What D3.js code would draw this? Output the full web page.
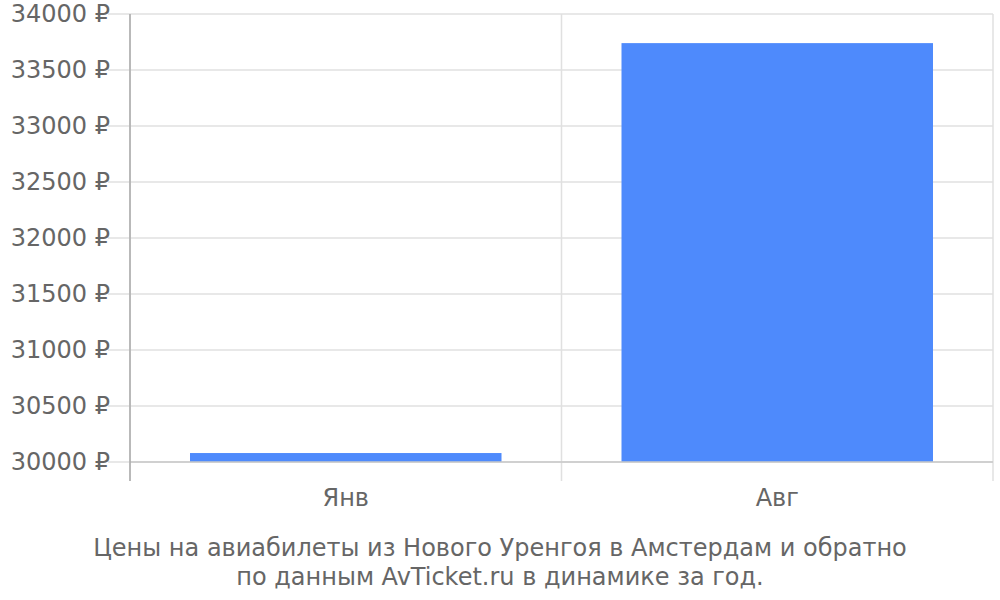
<!DOCTYPE html>
<html>
<head>
<meta charset="utf-8">
<script src="https://cdn.jsdelivr.net/npm/d3@7"></script>
<style>
  body { margin: 0; background: #fff; }
  text { font-family: "DejaVu Sans", sans-serif; }
</style>
</head>
<body>
<div id="chart"></div>
<script>
const months = ["Янв", "Авг"];
const prices = [30080, 33740];
const yTicks = [30000, 30500, 31000, 31500, 32000, 32500, 33000, 33500, 34000];
const titleLines = [
  "Цены на авиабилеты из Нового Уренгоя в Амстердам и обратно",
  "по данным AvTicket.ru в динамике за год."
];

const width = 1000, height = 600;
const margin = { top: 14, right: 7, bottom: 138, left: 130 };
const innerWidth = width - margin.left - margin.right;
const innerHeight = height - margin.top - margin.bottom;

const svg = d3.select("#chart").append("svg")
  .attr("width", width)
  .attr("height", height);

const inner = svg.append("g")
  .attr("transform", `translate(${margin.left},${margin.top})`);

const x = d3.scaleBand()
  .domain(months)
  .range([0, innerWidth]);

const y = d3.scaleLinear()
  .domain([30000, 34000])
  .range([innerHeight, 0]);

// horizontal grid + tick stubs
inner.selectAll(".hgrid")
  .data(yTicks)
  .enter()
  .append("line")
  .attr("x1", -22)
  .attr("x2", innerWidth)
  .attr("y1", d => y(d))
  .attr("y2", d => y(d))
  .attr("stroke", "#e0e0e0")
  .attr("stroke-width", 1.5);

// vertical category boundaries
const bounds = months.map(m => x(m)).concat([innerWidth]);
inner.selectAll(".vgrid")
  .data(bounds)
  .enter()
  .append("line")
  .attr("x1", d => d)
  .attr("x2", d => d)
  .attr("y1", 0)
  .attr("y2", innerHeight + 19)
  .attr("stroke", "#e0e0e0")
  .attr("stroke-width", 1.5);

// bars
const barPad = 60;
inner.selectAll(".bar")
  .data(months)
  .enter()
  .append("rect")
  .attr("x", d => x(d) + barPad)
  .attr("width", x.bandwidth() - 2 * barPad)
  .attr("y", (d, i) => y(prices[i]))
  .attr("height", (d, i) => innerHeight - y(prices[i]))
  .attr("fill", "#4e8afc");

// baseline and left axis
inner.append("line")
  .attr("x1", 0).attr("x2", innerWidth)
  .attr("y1", innerHeight).attr("y2", innerHeight)
  .attr("stroke", "#c8c8c8")
  .attr("stroke-width", 1.5);

inner.append("line")
  .attr("x1", 0).attr("x2", 0)
  .attr("y1", 0).attr("y2", innerHeight + 19)
  .attr("stroke", "#aaaaaa")
  .attr("stroke-width", 1.5);

// y tick labels
inner.selectAll(".ylabel")
  .data(yTicks)
  .enter()
  .append("text")
  .attr("x", -20)
  .attr("y", d => y(d))
  .attr("dy", "0.35em")
  .attr("text-anchor", "end")
  .attr("font-size", "24px")
  .attr("fill", "#666")
  .text(d => d + " ₽");

// x labels
inner.selectAll(".xlabel")
  .data(months)
  .enter()
  .append("text")
  .attr("x", d => x(d) + x.bandwidth() / 2)
  .attr("y", innerHeight + 44)
  .attr("text-anchor", "middle")
  .attr("font-size", "24px")
  .attr("fill", "#666")
  .text(d => d);

// title
svg.selectAll(".title")
  .data(titleLines)
  .enter()
  .append("text")
  .attr("x", 500)
  .attr("y", (d, i) => 556 + i * 29)
  .attr("text-anchor", "middle")
  .attr("font-size", "24px")
  .attr("fill", "#666")
  .text(d => d);
</script>
</body>
</html>
